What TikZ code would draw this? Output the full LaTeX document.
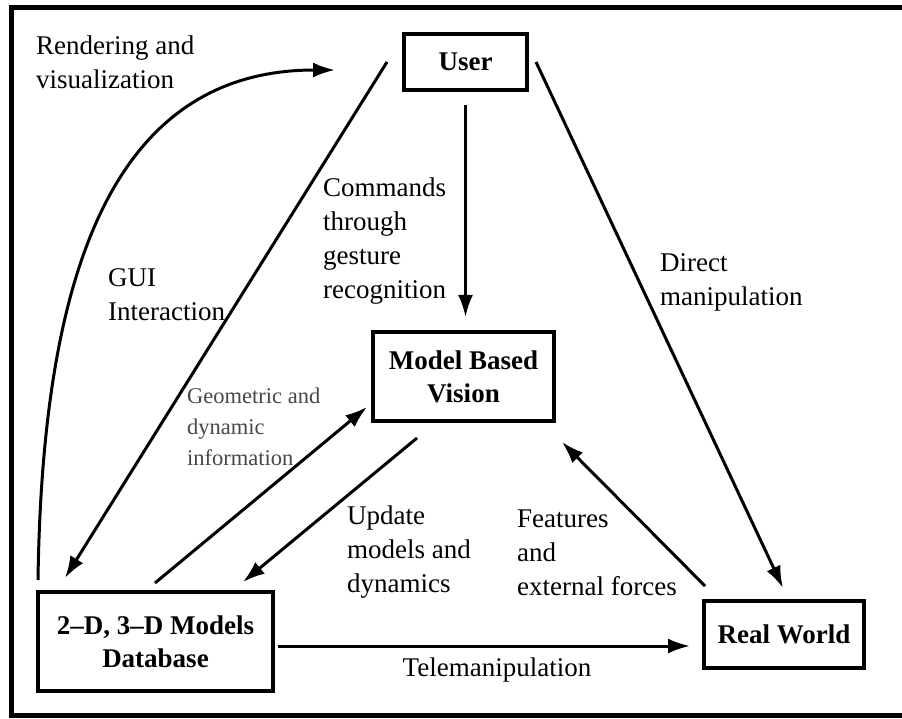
\documentclass[tikz,border=0pt]{standalone}
\usepackage{fontspec}
\setmainfont{Liberation Serif}
\usetikzlibrary{arrows.meta}
\begin{document}
\begin{tikzpicture}[x=1pt,y=-1pt,
  box/.style={draw,line width=3.2pt,inner sep=0pt,outer sep=0pt,align=center,
    font=\fontsize{27}{33}\selectfont\bfseries},
  lbl/.style={inner sep=0pt,anchor=west,align=left,font=\fontsize{27}{34}\selectfont},
  small/.style={inner sep=0pt,anchor=west,align=left,text=black!72,font=\fontsize{22.5}{31}\selectfont},
  arr/.style={line width=3pt,-{Latex[length=22pt,width=15pt]}}]
\useasboundingbox (0,0) rectangle (902,719);
\begin{scope}
  \clip (0,0) rectangle (902,719);
  \draw[line width=5pt] (11,7.5) rectangle (915,715.5);
\end{scope}
% boxes
\node[box,minimum width=123pt,minimum height=56pt] (user) at (465.5,62) {User};
\node[box,minimum width=181pt,minimum height=89pt] (mbv) at (463.5,376.5) {Model Based\\Vision};
\node[box,minimum width=235pt,minimum height=99pt] (db) at (155.5,641.5) {2--D, 3--D Models\\Database};
\node[box,minimum width=160pt,minimum height=67pt] (rw) at (784,634.5) {Real World};
% connectors
\draw[arr] ([shift={(0,-12)}]db.north west) .. controls (42,300) and (100,70) .. ([shift={(-69,8)}]user.west);
\draw[arr] ([shift={(-17,0)}]user.west) -- ([shift={(27,-14)}]db.north west);
\draw[arr,shorten <=15pt,shorten >=15pt] (user.south) -- (user.south |- mbv.north);
\draw[arr] ([shift={(9,0)}]user.east) -- ([shift={(-1,-13)}]rw.north);
\draw[arr] ([shift={(-0.5,-9)}]db.north) -- ([shift={(-6,-14)}]mbv.south west);
\draw[arr] ([shift={(44,17)}]mbv.south west) -- ([shift={(-30,-10)}]db.north east);
\draw[arr] ([shift={(1,-15)}]rw.north west) -- ([shift={(8,21)}]mbv.south east);
\draw[arr,shorten >=14pt] ([shift={(5,4.5)}]db.east) coordinate (t0) -- (t0 -| rw.west);
% labels
\node[lbl] (l1) at (36,62) {Rendering and\\visualization};
\node[lbl] (l2) at (108,294.5) {GUI\\Interaction};
\node[lbl] (l3) at (323,241) {Commands\\through\\gesture\\recognition};
\node[lbl] (l4) at (660,282) {Direct\\manipulation};
\node[small] (l5) at (187,427) {Geometric and\\dynamic\\information};
\node[lbl] (l6) at (347,552) {Update\\models and\\dynamics};
\node[lbl] (l7) at (517,552.5) {Features\\and\\external forces};
\node[lbl,anchor=center] (l8) at (497,670) {Telemanipulation};
\end{tikzpicture}
\end{document}
